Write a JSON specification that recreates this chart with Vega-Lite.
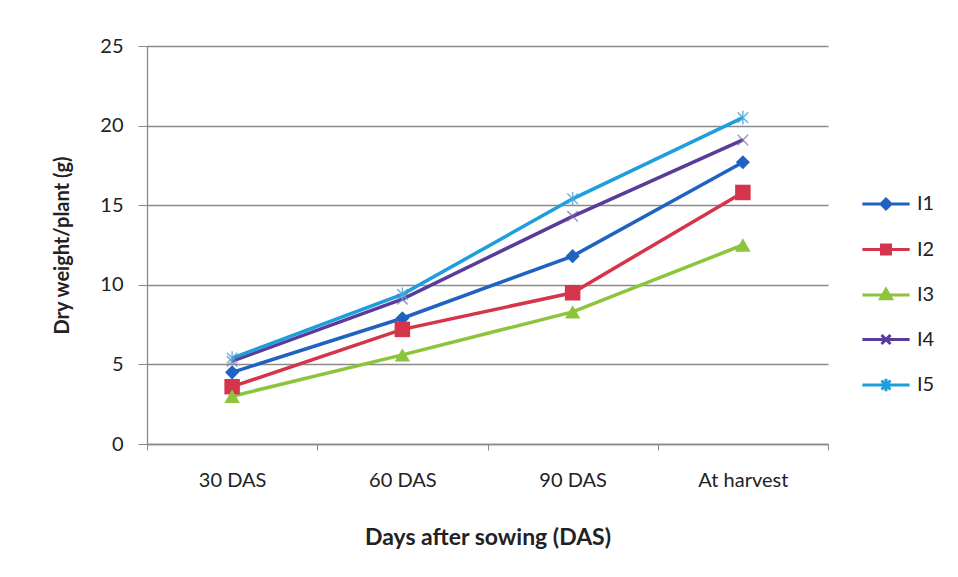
{
  "$schema": "https://vega.github.io/schema/vega-lite/v6.json",
  "width": 681,
  "height": 398,
  "autosize": {"type": "none"},
  "padding": {"left": 147, "top": 46, "right": 130, "bottom": 133},
  "background": "white",
  "config": {
    "view": {"stroke": null},
    "font": "Lato",
    "axis": {"labelFont": "Lato", "titleFont": "Lato", "labelColor": "#222", "titleColor": "#222"}
  },
  "data": {
    "values": [
      {"series": "I1", "stage": "30 DAS", "value": 4.5},
      {"series": "I1", "stage": "60 DAS", "value": 7.9},
      {"series": "I1", "stage": "90 DAS", "value": 11.8},
      {"series": "I1", "stage": "At harvest", "value": 17.7},
      {"series": "I2", "stage": "30 DAS", "value": 3.6},
      {"series": "I2", "stage": "60 DAS", "value": 7.2},
      {"series": "I2", "stage": "90 DAS", "value": 9.5},
      {"series": "I2", "stage": "At harvest", "value": 15.8},
      {"series": "I3", "stage": "30 DAS", "value": 3.0},
      {"series": "I3", "stage": "60 DAS", "value": 5.6},
      {"series": "I3", "stage": "90 DAS", "value": 8.3},
      {"series": "I3", "stage": "At harvest", "value": 12.5},
      {"series": "I4", "stage": "30 DAS", "value": 5.2},
      {"series": "I4", "stage": "60 DAS", "value": 9.1},
      {"series": "I4", "stage": "90 DAS", "value": 14.3},
      {"series": "I4", "stage": "At harvest", "value": 19.1},
      {"series": "I5", "stage": "30 DAS", "value": 5.4},
      {"series": "I5", "stage": "60 DAS", "value": 9.4},
      {"series": "I5", "stage": "90 DAS", "value": 15.4},
      {"series": "I5", "stage": "At harvest", "value": 20.5}
    ]
  },
  "encoding": {
    "x": {
      "field": "stage",
      "type": "nominal",
      "sort": ["30 DAS", "60 DAS", "90 DAS", "At harvest"],
      "scale": {"type": "band", "paddingInner": 0, "paddingOuter": 0},
      "axis": {
        "title": "Days after sowing (DAS)",
        "titleFontSize": 23,
        "titleFontWeight": "bold",
        "titleY": 93,
        "titleBaseline": "middle",
        "labelAngle": 0,
        "labelFontSize": 20,
        "labelPadding": 20,
        "tickBand": "extent",
        "tickSize": 6,
        "tickColor": "#888",
        "domainColor": "#888",
        "domainWidth": 1.3,
        "grid": false
      }
    },
    "y": {
      "field": "value",
      "type": "quantitative",
      "scale": {"domain": [0, 25]},
      "axis": {
        "title": "Dry weight/plant (g)",
        "titleFontSize": 20,
        "titleFontWeight": "bold",
        "titleX": -85,
        "titleY": 199,
        "titleAlign": "center",
        "titleBaseline": "middle",
        "values": [0, 5, 10, 15, 20, 25],
        "labelFontSize": 20,
        "labelPadding": 15,
        "tickSize": 9,
        "tickColor": "#888",
        "domainColor": "#888",
        "domainWidth": 1.3,
        "grid": true,
        "gridColor": "#8a8a8a",
        "gridWidth": 1.3
      }
    }
  },
  "layer": [
    {
      "mark": {"type": "point", "filled": true, "opacity": 1, "size": 4, "strokeWidth": 0.5},
      "encoding": {
        "fill": {
          "field": "series",
          "type": "nominal",
          "scale": {"domain": ["I1", "I2", "I3", "I4", "I5"], "range": ["#1F62C2", "#D5354A", "#8CC43C", "#5A3B9A", "#1E9EDC"]},
          "legend": {
            "title": null, "orient": "none", "legendX": 715, "legendY": 134,
            "symbolSize": 2025, "symbolStrokeWidth": 3, "symbolOpacity": 1,
            "labelFont": "Lato", "labelFontSize": 20, "labelColor": "#222", "labelOffset": 7, "rowPadding": 10.5, "padding": 0
          }
        },
        "stroke": {
          "field": "series",
          "type": "nominal",
          "scale": {"domain": ["I1", "I2", "I3", "I4", "I5"], "range": ["#1F62C2", "#D5354A", "#8CC43C", "#5A3B9A", "#1E9EDC"]},
          "legend": {
            "title": null, "orient": "none", "legendX": 715, "legendY": 134,
            "symbolSize": 2025, "symbolStrokeWidth": 3, "symbolOpacity": 1,
            "labelFont": "Lato", "labelFontSize": 20, "labelColor": "#222", "labelOffset": 7, "rowPadding": 10.5, "padding": 0
          }
        },
        "shape": {
          "field": "series",
          "type": "nominal",
          "scale": {
            "domain": ["I1", "I2", "I3", "I4", "I5"],
            "range": [
              "M-1.05,0H1.05M0,-0.22L0.22,0L0,0.22L-0.22,0Z",
              "M-1.05,0H1.05M-0.2,-0.2H0.2V0.2H-0.2Z",
              "M-1.05,0H1.05M0,-0.25L0.24,0.17H-0.24Z",
              "M-1.05,0H1.05M-0.2,-0.2L0.2,0.2M0.2,-0.2L-0.2,0.2",
              "M-1.05,0H1.05M-0.2,-0.2L0.2,0.2M0.2,-0.2L-0.2,0.2M0,-0.28V0.28"
            ]
          },
          "legend": {
            "title": null, "orient": "none", "legendX": 715, "legendY": 134,
            "symbolSize": 2025, "symbolStrokeWidth": 3, "symbolOpacity": 1,
            "labelFont": "Lato", "labelFontSize": 20, "labelColor": "#222", "labelOffset": 7, "rowPadding": 10.5, "padding": 0
          }
        }
      }
    },
    {
      "mark": {"type": "line", "strokeWidth": 3.5},
      "encoding": {
        "color": {
          "field": "series",
          "type": "nominal",
          "scale": {"domain": ["I1", "I2", "I3", "I4", "I5"], "range": ["#1F62C2", "#D5354A", "#8CC43C", "#5A3B9A", "#1E9EDC"]},
          "legend": null
        }
      }
    },
    {
      "transform": [{"filter": "datum.series === 'I1'"}],
      "mark": {"type": "point", "filled": true, "opacity": 1, "size": 200, "shape": "diamond", "color": "#1F62C2"},
      "encoding": {}
    },
    {
      "transform": [{"filter": "datum.series === 'I2'"}],
      "mark": {"type": "point", "filled": true, "opacity": 1, "size": 240, "shape": "square", "color": "#D5354A"},
      "encoding": {}
    },
    {
      "transform": [{"filter": "datum.series === 'I3'"}],
      "mark": {"type": "point", "filled": true, "opacity": 1, "size": 240, "shape": "triangle-up", "color": "#8CC43C"},
      "encoding": {}
    },
    {
      "transform": [{"filter": "datum.series === 'I4'"}],
      "mark": {"type": "point", "filled": false, "opacity": 0.7, "size": 110, "strokeWidth": 1.5, "shape": "M-1,-1L1,1M1,-1L-1,1", "color": "#7A6AAE"},
      "encoding": {}
    },
    {
      "transform": [{"filter": "datum.series === 'I5'"}],
      "mark": {"type": "point", "filled": false, "opacity": 0.8, "size": 110, "strokeWidth": 1.5, "shape": "M-1,-1L1,1M1,-1L-1,1M0,-1.3V1.3", "color": "#4AA8DC"},
      "encoding": {}
    }
  ]
}
